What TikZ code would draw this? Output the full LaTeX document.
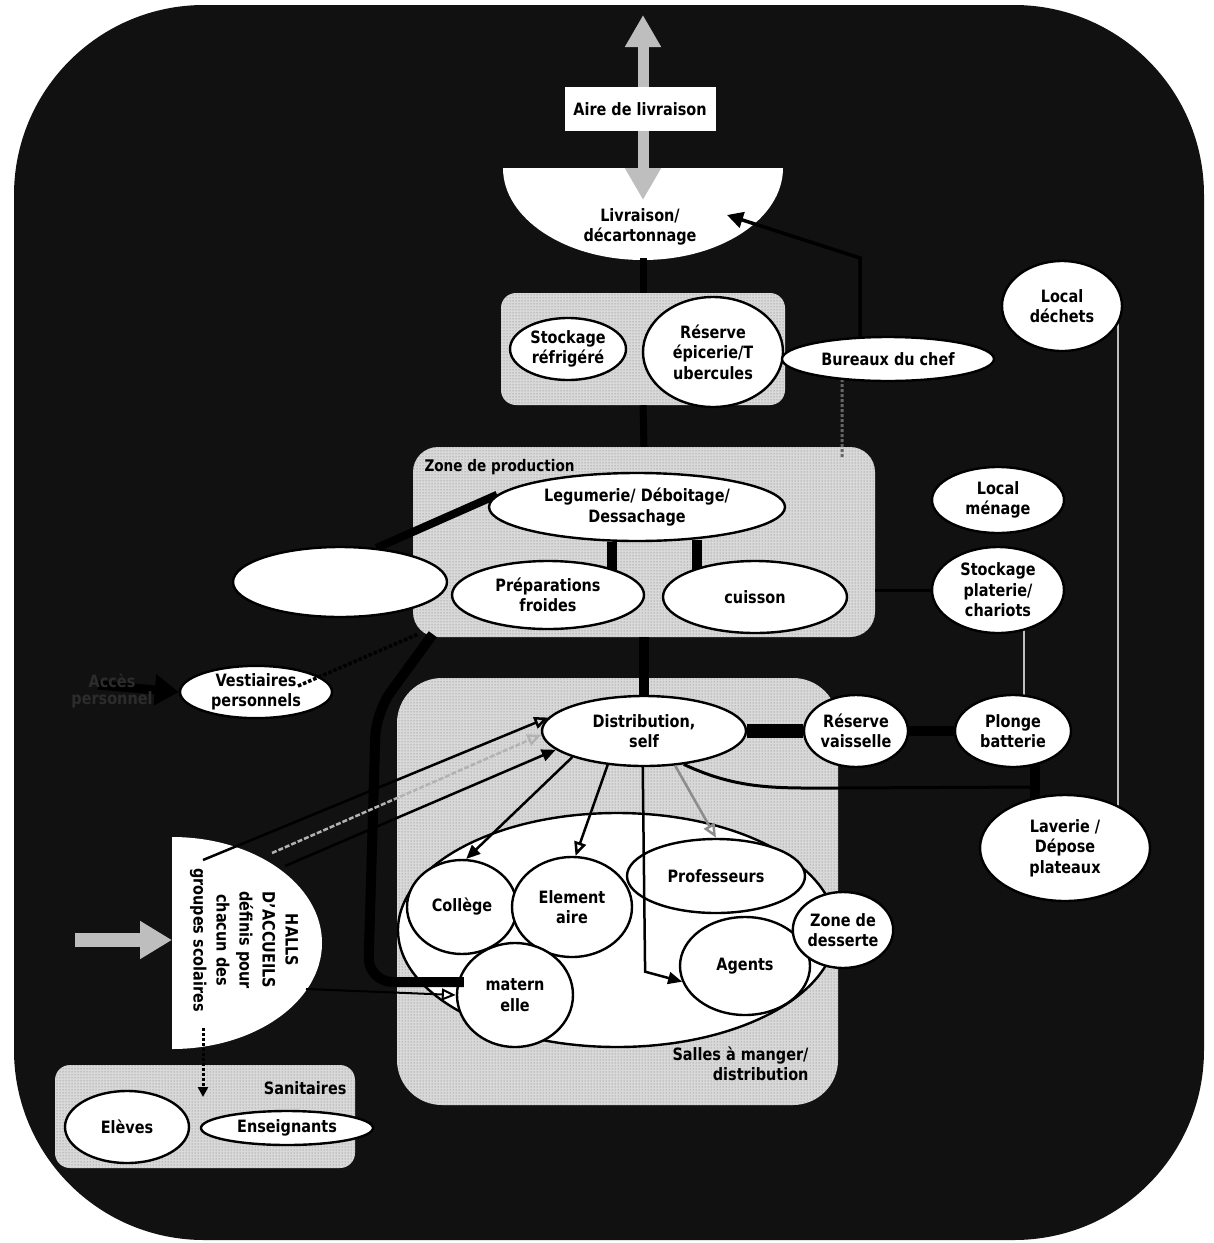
\documentclass[tikz,border=0pt]{standalone}
\usepackage{fontspec}
\setmainfont{DejaVu Sans}[FakeStretch=0.85]
\usetikzlibrary{arrows.meta,shapes.geometric,patterns,calc}
\pgfdeclarelayer{back}
\pgfdeclarelayer{mid}
\pgfsetlayers{back,mid,main}
\definecolor{bgc}{HTML}{111111}
\definecolor{zonec}{HTML}{D9D9D9}
\definecolor{arrg}{HTML}{BEBEBE}
\definecolor{faint}{HTML}{2C2C2C}
\begin{document}
\begin{tikzpicture}[x=1pt,y=-1pt,
  every node/.style={font=\fontsize{17}{20.5}\selectfont\bfseries, text=black},
  ell/.style={ellipse, draw=black, line width=2.4pt, fill=white, inner sep=0pt, align=center},
  zone/.style={rectangle, fill=zonec, postaction={pattern=dots, pattern color=black!55}, inner sep=0pt},
  heavy/.style={draw=black, line width=#1},
  arr/.style={draw=black, line width=2.5pt, -{Triangle[length=14pt,width=12pt]}},
  oarr/.style={line width=2.5pt, -{Triangle[open,length=14pt,width=12pt]}},
]
% ---------- background and zones
\begin{pgfonlayer}{back}
\fill[white] (0,0) rectangle (1214,1243);
\fill[bgc, rounded corners=190pt] (14,5) rectangle (1204,1240);
\node[zone, rounded corners=15pt, minimum width=284pt, minimum height=112pt] (zstock) at (643,349) {};
\node[zone, rounded corners=25pt, minimum width=462pt, minimum height=190pt] (zprod) at (644,542) {};
\node[zone, rounded corners=45pt, minimum width=441pt, minimum height=427pt] (zsalle) at (617.5,891.5) {};
\node[zone, rounded corners=15pt, minimum width=300pt, minimum height=103pt] (zsan) at (205,1116.5) {};
\begin{scope}
\clip (480,168) rectangle (800,280);
\fill[white] (643,168) ellipse [x radius=140pt, y radius=92pt];
\end{scope}
\begin{scope}
\clip (172,820) rectangle (340,1070);
\fill[white] (172,943) ellipse [x radius=150pt, y radius=106pt];
\end{scope}
\end{pgfonlayer}

% ---------- coordinates
\coordinate (topA) at (643,15);
\coordinate (livtip) at (643,200);
\coordinate (livb) at (643,258);
\coordinate (livarr) at (727,215);
\coordinate (bend1) at (860,258);
\coordinate (vestin) at (98,685);
\coordinate (hallsin) at (75,940);
\coordinate (hallsW) at (172,940);
\coordinate (hallsA) at (203,860);
\coordinate (hallsB) at (272,853);
\coordinate (hallsC) at (285,866);
\coordinate (hallsE) at (306,989);
\coordinate (hallsS) at (203,1028);
\coordinate (sanin) at (203,1097);
\coordinate (curveend) at (1035,787);

% ---------- nodes
\node[fill=white, minimum width=151pt, minimum height=44pt, inner sep=0pt] (aire) at (640,109) {Aire de livraison};
\node[align=center] (livr) at (640,227) {Livraison/\\décartonnage};
\node[ell, minimum width=116pt, minimum height=62pt] (refrig) at (568,349) {Stockage\\réfrigéré};
\node[ell, minimum width=140pt, minimum height=110pt] (reserve) at (713,352) {Réserve\\épicerie/T\\ubercules};
\node[ell, minimum width=212pt, minimum height=44pt] (bureau) at (888,359) {Bureaux du chef};
\node[ell, minimum width=296pt, minimum height=68pt] (legum) at (637,507) {Legumerie/ Déboitage/\\Dessachage};
\node[ell, minimum width=192pt, minimum height=68pt] (prep) at (548,595) {Préparations\\froides};
\node[ell, minimum width=184pt, minimum height=72pt] (cuisson) at (755,597) {cuisson};
\node[ell, minimum width=214pt, minimum height=70pt] (blank) at (340,582) {};
\node[ell, minimum width=152pt, minimum height=52pt] (vest) at (256,692) {Vestiaires\\personnels};
\node[text=faint, align=center, font=\fontsize{17}{17}\selectfont\bfseries] (acces) at (112,691) {Accès\\personnel};
\node[ell, minimum width=204pt, minimum height=70pt] (distr) at (644,731) {Distribution,\\self};
\node[ell, minimum width=104pt, minimum height=72pt] (resvais) at (856,731) {Réserve\\vaisselle};
\node[ell, minimum width=438pt, minimum height=234pt] (salles) at (617,930) {};
\node[ell, minimum width=110pt, minimum height=94pt] (college) at (462,907) {Collège};
\node[ell, minimum width=120pt, minimum height=100pt] (elem) at (572,907) {Element\\aire};
\node[ell, minimum width=178pt, minimum height=74pt] (prof) at (716,876) {Professeurs};
\node[ell, minimum width=130pt, minimum height=98pt] (agents) at (745,966) {Agents};
\node[ell, minimum width=116pt, minimum height=104pt] (matern) at (515,995) {matern\\elle};
\node[ell, minimum width=94pt, minimum height=76pt] (desserte) at (843,930) {Zone de\\desserte};
\node[ell, minimum width=124pt, minimum height=72pt] (eleves) at (127,1127) {Elèves};
\node[ell, minimum width=172pt, minimum height=34pt] (enseign) at (287,1128) {Enseignants};
\node[ell, minimum width=120pt, minimum height=90pt] (locdech) at (1062,306) {Local\\déchets};
\node[ell, minimum width=132pt, minimum height=66pt] (locmen) at (998,500) {Local\\ménage};
\node[ell, minimum width=132pt, minimum height=86pt] (stockpl) at (998,590) {Stockage\\platerie/\\chariots};
\node[ell, minimum width=116pt, minimum height=72pt] (plonge) at (1013,731) {Plonge\\batterie};
\node[ell, minimum width=170pt, minimum height=106pt] (laverie) at (1065,848) {Laverie /\\Dépose\\plateaux};

\node[anchor=west, font=\fontsize{16}{18}\selectfont\bfseries] (lprod) at (421,467) {Zone de production};
\node[anchor=east, align=right] (lsalle) at (812,1064) {Salles à manger/\\distribution};
\node[anchor=east] (lsan) at (350,1088) {Sanitaires};
\node[rotate=-90, align=center, font=\fontsize{17}{23}\selectfont\bfseries] (halls) at (244,940) {HALLS\\D'ACCUEILS\\définis pour\\chacun des\\groupes scolaires};

% ---------- connectors behind the nodes
\begin{pgfonlayer}{mid}
\draw[arrg, line width=11pt, {Triangle[length=32pt,width=34pt]}-{Triangle[length=32pt,width=34pt]}] (topA) -- (livtip);
\draw[heavy=7pt] (livb) -- (zstock.north);
\draw[heavy=7pt] (zstock.south) -- (zprod.north);
\draw[heavy=10pt] (zprod.south) -- (distr.north);
\draw[heavy=10pt] ($(legum.south)+(-25,0)$) -- ++(0,36);
\draw[heavy=10pt] ($(legum.south)+(60,-2)$) -- ++(0,36);
\draw[heavy=8pt] (blank.43) -- (legum.175);
\draw[heavy=14pt] (distr.east) -- (resvais.west);
\draw[heavy=10pt] (resvais.east) -- (plonge.west);
\draw[heavy=10pt] ($(plonge.south)+(22,-6)$) -- ++(0,48);
\draw[white!75!black, line width=1.3pt] ($(stockpl.south)+(26,-6)$) -- ++(0,74);
\draw[white!75!black, line width=1.3pt] ($(locdech.center)+(56,10)$) -- ($(laverie.center)+(53,-35)$);
\draw[heavy=3pt] (zprod.east |- stockpl.west) -- (stockpl.west);
\draw[heavy=3pt] (distr.-40) to[out=-25, in=180] (838,788) -- (curveend);
\draw[black!60, line width=3pt, dotted] ($(bureau.south)+(-46,-8)$) -- ($(zprod.north east)+(-33,12)$);
\draw[black, line width=3.5pt, -{Triangle[length=16pt,width=16pt]}] ($(bureau.north)+(-28,2)$) -- (bend1) -- (livarr);
\draw[black, line width=9pt, -{Triangle[length=24pt,width=30pt]}] (vestin) -- (vest.west);
\draw[arrg, line width=14pt, -{Triangle[length=32pt,width=36pt]}] (hallsin) -- (hallsW);
\end{pgfonlayer}

% ---------- connectors on top
\draw[black, line width=3.5pt, dotted] ($(vest.center)+(42,-6)$) -- ($(zprod.south west)+(5,-3)$);
\draw[heavy=10pt, rounded corners=25pt] ($(zprod.south west)+(20,-3)$) -- (376,712) -- (368,982) -- ($(matern.west)+(8,-13)$);
\draw[arr] (distr.200) -- (college.85);
\draw[oarr, black] (distr.223) -- (elem.86);
\draw[arr] (distr.268) -- ($(agents.194)+(-37,-10)$) -- (agents.194);
\draw[oarr, black!45] (distr.312) -- (prof.north);
\draw[oarr, black] (hallsA) -- (distr.172);
\draw[oarr, white!70!black, dash pattern=on 5pt off 2pt] (hallsB) -- (distr.182);
\draw[arr] (hallsC) -- (distr.192);
\draw[oarr, black, line width=2pt] (hallsE) -- (matern.west);
\draw[black, line width=3pt, dotted, -{Triangle[length=10pt,width=10pt]}] (hallsS) -- (sanin);
\end{tikzpicture}
\end{document}
